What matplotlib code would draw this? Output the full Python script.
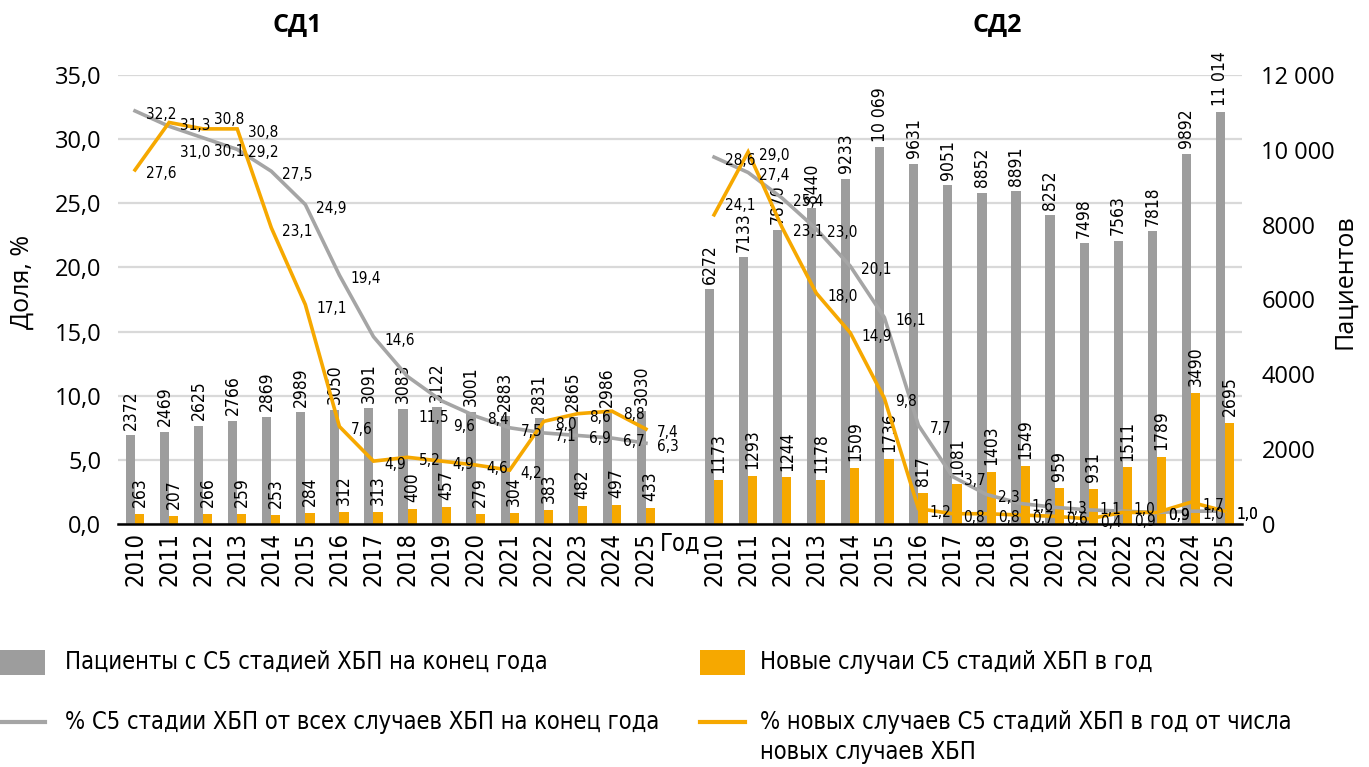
import matplotlib
matplotlib.use('Agg')
import matplotlib.pyplot as plt
from matplotlib.patches import Rectangle
from matplotlib.lines import Line2D
from matplotlib.ticker import FuncFormatter
from matplotlib import font_manager
import numpy as np

# ---------------------------------------------------------#
# Data                                                     #
# ---------------------------------------------------------#
years = [str(y) for y in range(2010, 2026)]

sd1_patients = [2372, 2469, 2625, 2766, 2869, 2989, 3050, 3091, 3083, 3122, 3001, 2883, 2831, 2865, 2986, 3030]
sd1_new      = [263, 207, 266, 259, 253, 284, 312, 313, 400, 457, 279, 304, 383, 482, 497, 433]
sd1_pct_all  = [32.2, 31.0, 30.1, 29.2, 27.5, 24.9, 19.4, 14.6, 11.5, 9.6, 8.4, 7.5, 7.1, 6.9, 6.7, 6.3]
sd1_pct_new  = [27.6, 31.3, 30.8, 30.8, 23.1, 17.1, 7.6, 4.9, 5.2, 4.9, 4.6, 4.2, 8.0, 8.6, 8.8, 7.4]

sd2_patients = [6272, 7133, 7870, 8440, 9233, 10069, 9631, 9051, 8852, 8891, 8252, 7498, 7563, 7818, 9892, 11014]
sd2_new      = [1173, 1293, 1244, 1178, 1509, 1736, 817, 1081, 1403, 1549, 959, 931, 1511, 1789, 3490, 2695]
sd2_pct_all  = [28.6, 27.4, 25.4, 23.0, 20.1, 16.1, 7.7, 3.7, 2.3, 1.6, 1.3, 1.1, 1.0, 0.9, 1.0, 1.0]
sd2_pct_new  = [24.1, 29.0, 23.1, 18.0, 14.9, 9.8, 1.2, 0.8, 0.8, 0.7, 0.6, 0.4, 0.9, 0.9, 1.7, 1.0]

group_titles = ['СД1', 'СД2']
gap_label    = 'Год'
left_ylabel  = 'Доля, %'
right_ylabel = 'Пациентов'
legend_labels = ['Пациенты с С5 стадией ХБП на конец года',
                 'Новые случаи С5 стадий ХБП в год',
                 '% С5 стадии ХБП от всех случаев ХБП на конец года',
                 '% новых случаев С5 стадий ХБП в год от числа\nновых случаев ХБП']

# ---------------------------------------------------------#
# Style                                                    #
# ---------------------------------------------------------#
c_grey     = '#9d9d9d'
c_grey_ln  = '#a5a5a5'
c_orange   = '#f6a800'
c_grid     = '#d9d9d9'
bar_w      = 0.27

# condensed face if the system has one, else plain DejaVu
cond_file = None
for f in font_manager.findSystemFonts():
    if f.endswith('DejaVuSansCondensed.ttf'):
        cond_file = f
if cond_file:
    font_manager.fontManager.addfont(cond_file)
def narrow_fp(size):
    if cond_file:
        return font_manager.FontProperties(fname=cond_file, size=size)
    return font_manager.FontProperties(family='DejaVu Sans', size=size * 0.88)

regular = ['Open Sans', 'DejaVu Sans']

# label nudges for the line labels (points, +up)
nudge = {('a1', 1): -16, ('a1', 2): -7, ('a1', 8): -27, ('a1', 9): -16,
         ('n1', 2): 9, ('n2', 0): 9, ('a2', 10): 2, ('a2', 11): 3, ('a2', 12): 4,
         ('n2', 12): -4}

def fmt_pct(v):
    return ('%.1f' % v).replace('.', ',')

def fmt_int(v):
    v = int(round(v))
    if v >= 10000:
        return '{:,}'.format(v).replace(',', ' ')
    return str(v)

# ---------------------------------------------------------#
# Axes                                                     #
# ---------------------------------------------------------#
fig = plt.figure(figsize=(13.69, 7.67), dpi=100)
ax  = fig.add_axes([118/1369, 1-524/767, (1242-118)/1369, (524-75)/767])
ax2 = ax.twinx()
ax3 = ax.twinx()

x1 = np.arange(len(years))
x2 = np.arange(len(years)) + len(years) + 1

bar_fp  = narrow_fp(12.5)
line_fp = narrow_fp(11)
for xs, pat, new in [(x1, sd1_patients, sd1_new), (x2, sd2_patients, sd2_new)]:
    ax2.bar(xs - bar_w/2, pat, width=bar_w, color=c_grey, zorder=1)
    ax2.bar(xs + bar_w/2, new, width=bar_w, color=c_orange, zorder=1)
    for xi, v in zip(xs, pat):
        ax2.annotate(fmt_int(v), (xi - bar_w/2, v), xytext=(0, 4), textcoords='offset points',
                     rotation=90, ha='center', va='bottom', fontproperties=bar_fp)
    for xi, v in zip(xs, new):
        ax2.annotate(fmt_int(v), (xi + bar_w/2, v), xytext=(0, 5), textcoords='offset points',
                     rotation=90, ha='center', va='bottom', fontproperties=bar_fp)

for xs, vals, col in [(x1, sd1_pct_all, c_grey_ln), (x1, sd1_pct_new, c_orange),
                      (x2, sd2_pct_all, c_grey_ln), (x2, sd2_pct_new, c_orange)]:
    ax3.plot(xs, vals, color=col, lw=2.6, solid_joinstyle='miter', zorder=3)

for key, xs, vals in [('a1', x1, sd1_pct_all), ('n1', x1, sd1_pct_new),
                      ('a2', x2, sd2_pct_all), ('n2', x2, sd2_pct_new)]:
    for i, (xi, v) in enumerate(zip(xs, vals)):
        dy = -2.5 + nudge.get((key, i), 0)
        ax3.annotate(fmt_pct(v), (xi, v), xytext=(8, dy), textcoords='offset points',
                     ha='left', va='center', fontproperties=line_fp, zorder=4)

ax.set_xlim(-0.5, 32.5)
ax.set_ylim(0, 35)
ax3.set_ylim(0, 35)
ax2.set_ylim(0, 12000)

ax.set_yticks(np.arange(0, 36, 5))
ax.yaxis.set_major_formatter(FuncFormatter(lambda v, p: fmt_pct(v)))
ax.grid(axis='y', color=c_grid, lw=1.6)
ax.set_axisbelow(True)

ax2.set_yticks(np.arange(0, 12001, 2000))
ax2.yaxis.set_major_formatter(FuncFormatter(lambda v, p: fmt_int(v)))
ax3.set_yticks([])

xt = list(x1) + [len(years)] + list(x2)
ax.set_xticks(xt)
ax.set_xticklabels(years + [gap_label] + years, rotation=90)
for lab in ax.get_xticklabels():
    lab.set_fontproperties(narrow_fp(17))
ax.get_xticklabels()[len(years)].set_rotation(0)

ax.tick_params(axis='x', length=0, pad=6)
ax.tick_params(axis='y', length=0, pad=12, labelsize=17)
ax2.tick_params(axis='y', length=0, pad=14, labelsize=17)
for lab in ax.get_yticklabels() + ax2.get_yticklabels():
    lab.set_family(regular)

for a in (ax, ax2, ax3):
    for s in a.spines.values():
        s.set_visible(False)
ax2.spines['bottom'].set_visible(True)
ax2.spines['bottom'].set_color('black')
ax2.spines['bottom'].set_linewidth(1.8)
ax2.spines['bottom'].set_zorder(5)

fig.text(22/1369, 1-282/767, left_ylabel, rotation=90, ha='center', va='center',
         fontsize=18, family=regular)
fig.text(1345/1369, 1-282/767, right_ylabel, rotation=90, ha='center', va='center',
         fontsize=18, family=regular)

fig.text(297/1369, 1-25/767, group_titles[0], ha='center', va='center', fontsize=18,
         fontweight='bold', family=regular)
fig.text(997/1369, 1-25/767, group_titles[1], ha='center', va='center', fontsize=18,
         fontweight='bold', family=regular)

# ---------------------------------------------------------#
# Legend (drawn by hand, figure pixels)                    #
# ---------------------------------------------------------#
def fx(px): return px/1369
def fy(py): return 1 - py/767

fig.add_artist(Rectangle((fx(0), fy(675)), fx(45), 25/767, transform=fig.transFigure,
                         color=c_grey, lw=0))
fig.add_artist(Rectangle((fx(700), fy(675)), fx(45), 25/767, transform=fig.transFigure,
                         color=c_orange, lw=0))
fig.add_artist(Line2D([fx(0), fx(45)], [fy(722), fy(722)], transform=fig.transFigure,
                      color=c_grey_ln, lw=3))
fig.add_artist(Line2D([fx(700), fx(745)], [fy(722), fy(722)], transform=fig.transFigure,
                      color=c_orange, lw=3))
leg_fp = narrow_fp(17)
leg_kw = dict(fontproperties=leg_fp, va='center', ha='left')
fig.text(fx(65), fy(662), legend_labels[0], **leg_kw)
fig.text(fx(760), fy(662), legend_labels[1], **leg_kw)
fig.text(fx(65), fy(722), legend_labels[2], **leg_kw)
fig.text(fx(760), fy(722), legend_labels[3].split('\n')[0], **leg_kw)
fig.text(fx(760), fy(752), legend_labels[3].split('\n')[1], **leg_kw)

fig.savefig('out.png', dpi=100, facecolor='white')
